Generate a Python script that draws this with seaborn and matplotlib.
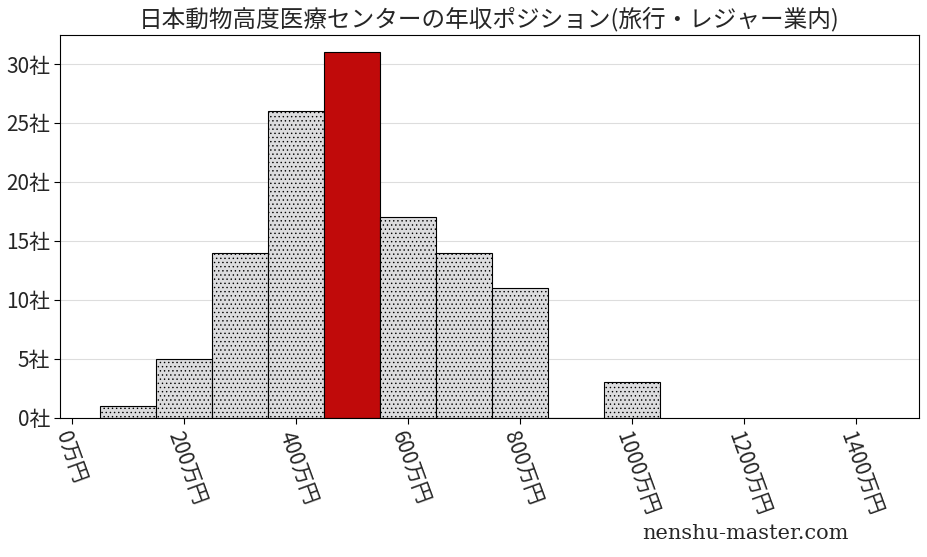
import matplotlib
matplotlib.use("Agg")
import matplotlib.pyplot as plt
import seaborn as sns
import pandas as pd

centers = [100, 200, 300, 400, 500, 600, 700, 800, 900, 1000]
counts = [1, 5, 14, 26, 31, 17, 14, 11, 0, 3]
highlight = 500
xticks = [0, 200, 400, 600, 800, 1000, 1200, 1400]
yticks = [0, 5, 10, 15, 20, 25, 30]

sns.set_style("white")
plt.rcParams['font.family'] = ['Noto Sans CJK JP', 'DejaVu Sans']
plt.rcParams['hatch.color'] = '#b8b8c0'
plt.rcParams['hatch.linewidth'] = 0.5

df = pd.DataFrame({"x": centers, "n": counts})
fig, ax = plt.subplots(figsize=(9.28, 5.57), dpi=100)
sns.histplot(data=df, x="x", weights="n", binwidth=100, binrange=(50, 1050),
             color="#dcdcde", edgecolor="black", linewidth=0.8, alpha=1, ax=ax)
for p in ax.patches:
    p.set_hatch('....')
    c = p.get_x() + p.get_width() / 2
    if abs(c - highlight) < 1:
        p.set_facecolor("#c00a0a")
        p.set_hatch(None)
ax.set_xlim(-20, 1512)
ax.set_ylim(0, 32.5)
ax.set_xticks(xticks)
ax.set_xticklabels([f"{v}万円" for v in xticks], rotation=-70, ha="left", va="top", fontsize=15, rotation_mode="anchor")
ax.set_yticks(yticks)
ax.set_yticklabels([f"{v}社" for v in yticks], fontsize=15)
ax.yaxis.grid(True, color="#dddddd", linewidth=0.8)
ax.set_axisbelow(True)
ax.set_xlabel("")
ax.set_ylabel("")
for s in ax.spines.values():
    s.set_color("black"); s.set_linewidth(0.8)
ax.tick_params(axis="both", length=4, color="black", direction="out", bottom=True, left=True)
ax.set_title("日本動物高度医療センターの年収ポジション(旅行・レジャー業内)", fontsize=17, pad=6)
fig.text(0.915, 0.025, "nenshu-master.com", ha="right", va="bottom", fontsize=15, family=["DejaVu Serif"])
fig.subplots_adjust(left=0.065, right=0.99, top=0.938, bottom=0.25)
fig.savefig("out.png", dpi=100)
